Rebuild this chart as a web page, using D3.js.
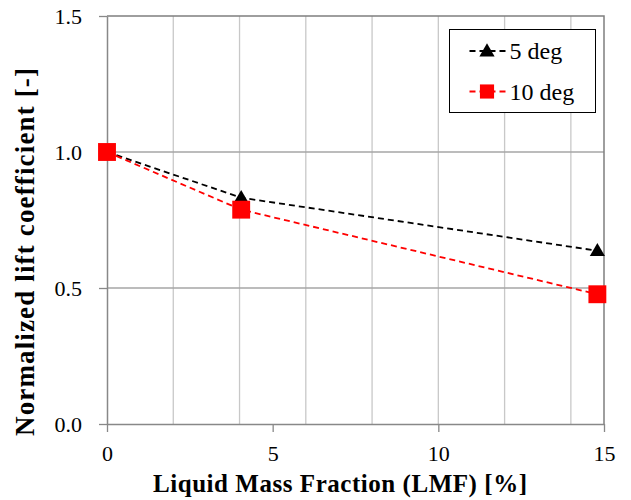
<!DOCTYPE html>
<html>
<head>
<meta charset="utf-8">
<script src="https://cdn.jsdelivr.net/npm/d3@7"></script>
<style>
  body { margin: 0; background: #fff; }
  svg { display: block; font-family: "Liberation Serif", "Times New Roman", serif; }
</style>
</head>
<body>
<script>
const lmf = [0, 4.05, 14.8];
const deg5 = [1.0, 0.832, 0.637];
const deg10 = [1.0, 0.788, 0.477];
const seriesNames = ["5 deg", "10 deg"];
const xTicks = [0, 5, 10, 15];
const xGrid = [2, 4, 6, 8, 10, 12, 14];
const yTicks = [0, 0.5, 1.0, 1.5];

const width = 631;
const height = 500;
const marginLeft = 107;
const marginRight = 27;
const marginTop = 16;
const marginBottom = 76;

const x = d3.scaleLinear()
    .domain([0, 15])
    .range([marginLeft, width - marginRight]);

const y = d3.scaleLinear()
    .domain([0, 1.5])
    .range([height - marginBottom, marginTop]);

const svg = d3.create("svg")
    .attr("width", width)
    .attr("height", height)
    .attr("viewBox", `0 0 ${width} ${height}`);

// gridlines
svg.append("g")
    .selectAll("line")
    .data(xGrid)
    .join("line")
    .attr("x1", d => x(d)).attr("x2", d => x(d))
    .attr("y1", y(0)).attr("y2", y(1.5))
    .attr("stroke", "#c8c8c8")
    .attr("stroke-width", 1.3);

svg.append("g")
    .selectAll("line")
    .data([0.5, 1.0])
    .join("line")
    .attr("x1", x(0)).attr("x2", x(15))
    .attr("y1", d => y(d)).attr("y2", d => y(d))
    .attr("stroke", "#a6a6a6")
    .attr("stroke-width", 1.3);

// frame top + right
svg.append("path")
    .attr("d", `M${x(0)},${y(1.5)}H${x(15)}V${y(0)}`)
    .attr("fill", "none")
    .attr("stroke", "#7f7f7f")
    .attr("stroke-width", 1.5);

// axes
const xAxis = svg.append("g")
    .attr("transform", `translate(0,${y(0)})`)
    .call(d3.axisBottom(x).tickValues(xTicks).tickSize(8).tickPadding(13).tickSizeOuter(0));

const yAxis = svg.append("g")
    .attr("transform", `translate(${x(0)},0)`)
    .call(d3.axisLeft(y).tickValues(yTicks).tickFormat(d3.format(".1f")).tickSize(8).tickPadding(17).tickSizeOuter(0));

[xAxis, yAxis].forEach(a => {
    a.attr("font-family", null).attr("font-size", null);
    a.select(".domain").attr("stroke", "#888").attr("stroke-width", 1.5);
    a.selectAll(".tick line").attr("stroke", "#888").attr("stroke-width", 1.3);
    a.selectAll(".tick text")
        .attr("fill", "#000")
        .style("font-size", "22px");
});

// axis titles
svg.append("text")
    .attr("x", 340)
    .attr("y", 492)
    .attr("text-anchor", "middle")
    .attr("textLength", 374)
    .style("font-size", "25px")
    .style("font-weight", "bold")
    .text("Liquid Mass Fraction (LMF) [%]");

svg.append("text")
    .attr("transform", "translate(34,252) rotate(-90)")
    .attr("text-anchor", "middle")
    .attr("textLength", 368)
    .style("font-size", "27px")
    .style("font-weight", "bold")
    .text("Normalized lift coefficient [-]");

// series
const series = [
    { name: seriesNames[0], values: deg5, color: "#000", marker: "triangle" },
    { name: seriesNames[1], values: deg10, color: "#ff0000", marker: "square" }
];

const line = d3.line()
    .x(d => x(d[0]))
    .y(d => y(d[1]));

const triangle = d3.symbol().type(d3.symbolTriangle).size(100);
const square = d3.symbol().type(d3.symbolSquare).size(320);

series.forEach(s => {
    const pts = lmf.map((v, i) => [v, s.values[i]]);
    svg.append("path")
        .datum(pts)
        .attr("d", line)
        .attr("fill", "none")
        .attr("stroke", s.color)
        .attr("stroke-width", 1.8)
        .attr("stroke-dasharray", "6,4");
});

// markers drawn after lines
series.forEach(s => {
    svg.append("g")
        .selectAll("path")
        .data(lmf.map((v, i) => [v, s.values[i]]))
        .join("path")
        .attr("transform", d => `translate(${x(d[0])},${y(d[1]) + (s.marker === "triangle" ? 1 : 0)})`)
        .attr("d", s.marker === "triangle" ? triangle : square)
        .attr("fill", s.color);
});

// legend
const legend = svg.append("g")
    .attr("transform", "translate(449.5,29.5)");

legend.append("rect")
    .attr("width", 146)
    .attr("height", 83)
    .attr("fill", "#fff")
    .attr("stroke", "#000")
    .attr("stroke-width", 1);

series.forEach((s, i) => {
    const g = legend.append("g")
        .attr("transform", `translate(0,${21.5 + i * 40.5})`);
    g.append("line")
        .attr("x1", 19).attr("x2", 56)
        .attr("stroke", s.color)
        .attr("stroke-width", 1.8)
        .attr("stroke-dasharray", "6,4")
        .attr("stroke-dashoffset", -1);
    g.append("path")
        .attr("transform", `translate(37.5,${s.marker === "triangle" ? 1 : 0})`)
        .attr("d", s.marker === "triangle" ? triangle : d3.symbol().type(d3.symbolSquare).size(200))
        .attr("fill", s.color);
    g.append("text")
        .attr("x", 60)
        .attr("y", 8)
        .style("font-size", "24px")
        .text(s.name);
});

document.body.appendChild(svg.node());
</script>
</body>
</html>
